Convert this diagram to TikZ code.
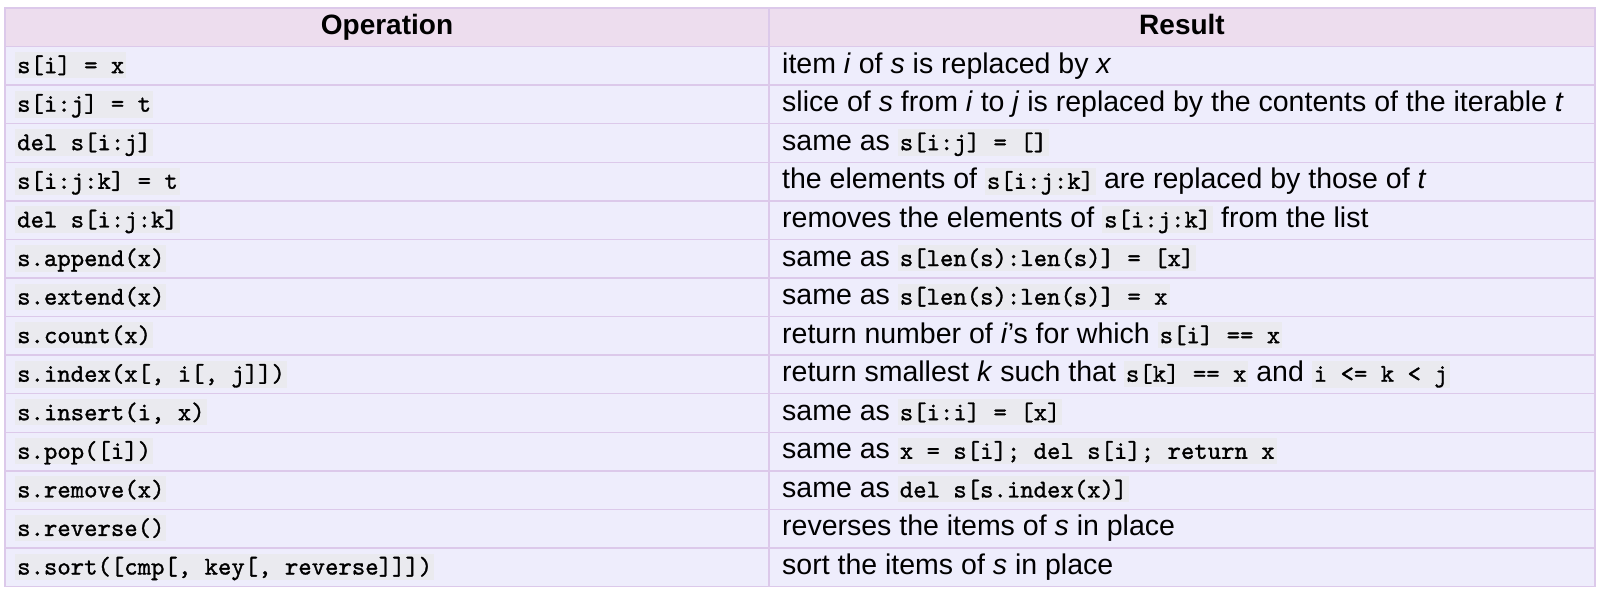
\documentclass[tikz,border=0pt]{standalone}
\usepackage{fontspec}
\setmainfont{Liberation Sans}
\newfontface\pyfont{lmmono10-regular.otf}[FakeBold=1.2]
\usepackage{tikz}
\usetikzlibrary{positioning}

\definecolor{headfill}{HTML}{EDDDEE}
\definecolor{rowfill}{HTML}{EEEDFC}
\definecolor{gridline}{HTML}{DCC9EA}
\definecolor{codefill}{HTML}{EAEAEF}

% inline code with its grey box
\newcommand{\pyc}[1]{{\setlength{\fboxsep}{0pt}\colorbox{codefill}{\hspace{2pt}\rule[-5pt]{0pt}{26pt}\pyfont\fontsize{25.5}{28}\selectfont #1\hspace{2pt}}}}

\begin{document}
\begin{tikzpicture}[x=1pt, y=-1pt,
    cell/.style={anchor=base west, inner sep=0pt, font=\fontsize{28.5}{32}\selectfont},
    headcell/.style={anchor=base, inner sep=0pt, font=\fontsize{28}{32}\selectfont\bfseries},
    grid/.style={draw=gridline, line width=1.5pt}]
                \useasboundingbox (0,0) rectangle (1600,592);

                % Backgrounds
                \fill[rowfill] (5,8) rectangle (1595,586.6);
                \fill[headfill] (5,8) rectangle (1595,46.6);

                % Grid
                \foreach \k in {0,...,13} {
                    \draw[grid] (5,{46.6+38.57*\k}) -- (1595,{46.6+38.57*\k});
                }
                \draw[grid] (5,8) rectangle (1595,586.6);
                \draw[grid] (769,8) -- (769,586.6);

                % Header
                \node[headcell] at (387,34) (hop) {Operation};
                \node[headcell] at (1182,34) (hres) {Result};

                % Rows
                \node[cell] at (15,73.1) (op1) {\pyc{s[i] = x}};
                \node[cell] at (782,73.1) (res1) {item \textit{i} of \textit{s} is replaced by \textit{x}};

                \node[cell] at (15,111.7) (op2) {\pyc{s[i:j] = t}};
                \node[cell] at (782,111.7) (res2) {slice of \textit{s} from \textit{i} to \textit{j} is replaced by the contents of the iterable \textit{t}};

                \node[cell] at (15,150.2) (op3) {\pyc{del s[i:j]}};
                \node[cell] at (782,150.2) (res3) {same as \pyc{s[i:j] = []}};

                \node[cell] at (15,188.8) (op4) {\pyc{s[i:j:k] = t}};
                \node[cell] at (782,188.8) (res4) {the elements of \pyc{s[i:j:k]} are replaced by those of \textit{t}};

                \node[cell] at (15,227.4) (op5) {\pyc{del s[i:j:k]}};
                \node[cell] at (782,227.4) (res5) {removes the elements of \pyc{s[i:j:k]} from the list};

                \node[cell] at (15,266.0) (op6) {\pyc{s.append(x)}};
                \node[cell] at (782,266.0) (res6) {same as \pyc{s[len(s):len(s)] = [x]}};

                \node[cell] at (15,304.5) (op7) {\pyc{s.extend(x)}};
                \node[cell] at (782,304.5) (res7) {same as \pyc{s[len(s):len(s)] = x}};

                \node[cell] at (15,343.1) (op8) {\pyc{s.count(x)}};
                \node[cell] at (782,343.1) (res8) {return number of \textit{i}'s for which \pyc{s[i] == x}};

                \node[cell] at (15,381.7) (op9) {\pyc{s.index(x[, i[, j]])}};
                \node[cell] at (782,381.7) (res9) {return smallest \textit{k} such that \pyc{s[k] == x} and \pyc{i <= k < j}};

                \node[cell] at (15,420.2) (op10) {\pyc{s.insert(i, x)}};
                \node[cell] at (782,420.2) (res10) {same as \pyc{s[i:i] = [x]}};

                \node[cell] at (15,458.8) (op11) {\pyc{s.pop([i])}};
                \node[cell] at (782,458.8) (res11) {same as \pyc{x = s[i]; del s[i]; return x}};

                \node[cell] at (15,497.4) (op12) {\pyc{s.remove(x)}};
                \node[cell] at (782,497.4) (res12) {same as \pyc{del s[s.index(x)]}};

                \node[cell] at (15,535.9) (op13) {\pyc{s.reverse()}};
                \node[cell] at (782,535.9) (res13) {reverses the items of \textit{s} in place};

                \node[cell] at (15,574.5) (op14) {\pyc{s.sort([cmp[, key[, reverse]]])}};
                \node[cell] at (782,574.5) (res14) {sort the items of \textit{s} in place};

\end{tikzpicture}
\end{document}
